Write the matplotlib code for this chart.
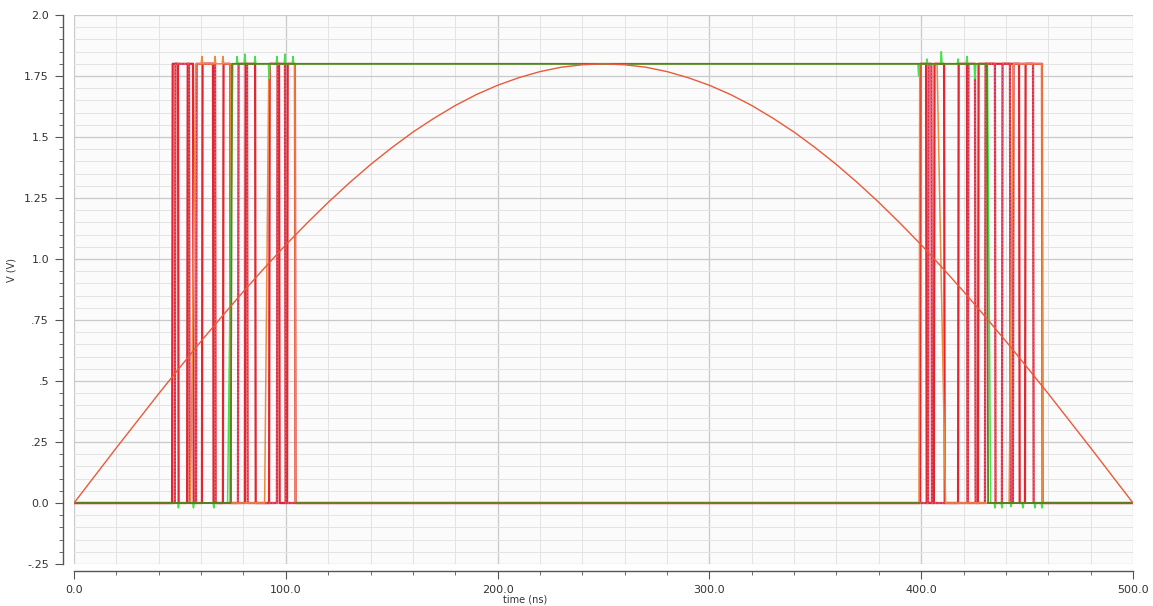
import matplotlib
matplotlib.use("Agg")
import matplotlib.pyplot as plt
from matplotlib.ticker import MultipleLocator

VDD = 1.8

# half-sine input, every 10 ns (ns, V)
vin_t = [0, 10, 20, 30, 40, 50, 60, 70, 80, 90, 100, 110, 120, 130, 140, 150, 160,
         170, 180, 190, 200, 210, 220, 230, 240, 250, 260, 270, 280, 290, 300, 310,
         320, 330, 340, 350, 360, 370, 380, 390, 400, 410, 420, 430, 440, 450, 460,
         470, 480, 490, 500]
vin_v = [0.0, 0.113, 0.226, 0.337, 0.448, 0.556, 0.663, 0.766, 0.867, 0.964, 1.058,
         1.147, 1.232, 1.312, 1.387, 1.456, 1.520, 1.577, 1.629, 1.674, 1.712, 1.743,
         1.768, 1.786, 1.796, 1.800, 1.796, 1.786, 1.768, 1.743, 1.712, 1.674, 1.629,
         1.577, 1.520, 1.456, 1.387, 1.312, 1.232, 1.147, 1.058, 0.964, 0.867, 0.766,
         0.663, 0.556, 0.448, 0.337, 0.226, 0.113, 0.0]

# digital outputs: spans (ns) where each bit is high
bit_a_hi = [(46.3, 49.1), (53.4, 56.2), (60.4, 65.6), (70.3, 73.7), (80.7, 85.5),
            (92.1, 96.8), (100.6, 104.3), (399.4, 402.3), (406.0, 410.8),
            (417.4, 421.6), (426.8, 446.2), (449.0, 457.0)]
bit_b_hi = [(47.6, 54.3), (57.6, 66.6), (77.4, 81.7), (95.8, 99.6), (403.2, 404.8),
            (422.0, 425.4), (430.1, 434.8), (438.1, 441.9), (443.3, 452.8)]
bit_c_hi = [(55.0, 73.7), (90.0, 104.3), (399.0, 407.5), (441.5, 457.0)]
bit_c_rise = [2.5, 2.0, 0.3, 2.0]
bit_c_fall = [0.4, 0.3, 4.0, 0.3]
bit_c_glitch_t = [60.4, 66.6, 70.3]
bit_c_glitch_v = [1.83, 1.83, 1.83]

msb_hi = [(74.0, 431.0)]
msb_raw_hi = [(72.5, 431.3)]
msb_raw_glitch_t = [49.3, 56.4, 66.0, 77.0, 80.7, 85.5, 92.1, 95.8, 99.6, 103.4,
                    398.8, 402.7, 409.5, 417.4, 421.6, 425.4,
                    434.8, 438.1, 442.4, 448.0, 453.7, 457.0]
msb_raw_glitch_v = [-0.02, -0.02, -0.02, 1.83, 1.84, 1.83, 1.74, 1.83, 1.84, 1.83,
                    1.75, 1.82, 1.85, 1.82, 1.83, 1.74,
                    -0.02, -0.02, -0.015, -0.02, -0.02, -0.02]

# spans where the low rail trace is visible
low_rail_spans = [(0.0, 74.0), (104.3, 399.4), (431.0, 500.0)]

T_END = 500.0


def trace(hi, rise=None, fall=None, glitch_t=(), glitch_v=(), w=0.35):
    rise = rise or [0.3] * len(hi)
    fall = fall or [0.3] * len(hi)
    pts = [(0.0, 0.0), (T_END, 0.0)]
    for (a, b), r, f in zip(hi, rise, fall):
        pts += [(a, 0.0), (a + r, VDD), (b, VDD), (b + f, 0.0)]
    for tg, vg in zip(glitch_t, glitch_v):
        base = VDD if any(a <= tg <= b for a, b in hi) else 0.0
        pts += [(tg - w, base), (tg, vg), (tg + w, base)]
    pts.sort()
    t, v = zip(*pts)
    return t, v


fig = plt.figure(figsize=(11.53, 6.06), dpi=100, facecolor="white")
ax = fig.add_axes([74 / 1153, 1 - 564 / 606, (1133 - 74) / 1153, (564 - 15) / 606])
ax.set_facecolor("#fbfbfb")

t, v = trace(bit_a_hi)
ax.plot(t, v, color="#e2252e", lw=1.6, zorder=3)
t, v = trace(bit_b_hi)
ax.plot(t, v, color="#e0303a", lw=1.6, zorder=3)
ax.plot(t, v, color="#e060a0", lw=1.0, ls=(0, (1, 1.5)), zorder=3)
t, v = trace(bit_c_hi, bit_c_rise, bit_c_fall, bit_c_glitch_t, bit_c_glitch_v)
ax.plot(t, v, color="#f0883c", lw=1.1, zorder=3)

t, v = trace(msb_raw_hi, [2.5], [1.5], msb_raw_glitch_t, msb_raw_glitch_v)
ax.plot(t, v, color="#45e04c", lw=1.1, zorder=4)
t, v = trace(msb_hi, [0.6], [0.6])
ax.plot(t, v, color="#5f7d1c", lw=1.3, zorder=5)
ax.hlines([0.0] * len(low_rail_spans), [s[0] for s in low_rail_spans],
          [s[1] for s in low_rail_spans], color="#5f7d1c", lw=1.3, zorder=5)

ax.plot(vin_t, vin_v, color="#ea5a3a", lw=1.0, zorder=6)

ax.set_xlim(0, 500)
ax.set_ylim(-0.25, 2.0)
ax.xaxis.set_minor_locator(MultipleLocator(20))
ax.yaxis.set_minor_locator(MultipleLocator(0.05))
ax.set_xticks([0, 100, 200, 300, 400, 500])
ax.set_xticklabels(["0.0", "100.0", "200.0", "300.0", "400.0", "500.0"])
ax.set_yticks([-0.25, 0, 0.25, 0.5, 0.75, 1.0, 1.25, 1.5, 1.75, 2.0])
ax.set_yticklabels(["-.25", "0.0", ".25", ".5", ".75", "1.0", "1.25", "1.5", "1.75", "2.0"])
ax.get_xticklabels()[4].set_fontweight("bold")

ax.grid(which="major", color="#c9c9c9", lw=0.9)
ax.grid(which="minor", color="#e3e3e3", lw=0.7)
ax.set_axisbelow(True)

for side in ("top", "right"):
    ax.spines[side].set_visible(False)
ax.spines["left"].set_position(("outward", 8))
ax.spines["bottom"].set_position(("outward", 5))
for side in ("left", "bottom"):
    ax.spines[side].set_color("#555555")
    ax.spines[side].set_linewidth(1.0)

ax.tick_params(which="major", length=6, color="#555555", labelsize=8, labelcolor="#333333")
ax.tick_params(which="minor", length=3, color="#555555")
ax.tick_params(axis="y", pad=4)
ax.tick_params(axis="x", pad=4)

fig.text(12 / 1153, 1 - 270 / 606, "V (V)", rotation=90, fontsize=7,
         ha="center", va="center", color="#333333")
fig.text(525 / 1153, 1 - 600 / 606, "time (ns)", fontsize=7,
         ha="center", va="center", color="#333333")

fig.savefig("out.png", dpi=100, facecolor="white")
